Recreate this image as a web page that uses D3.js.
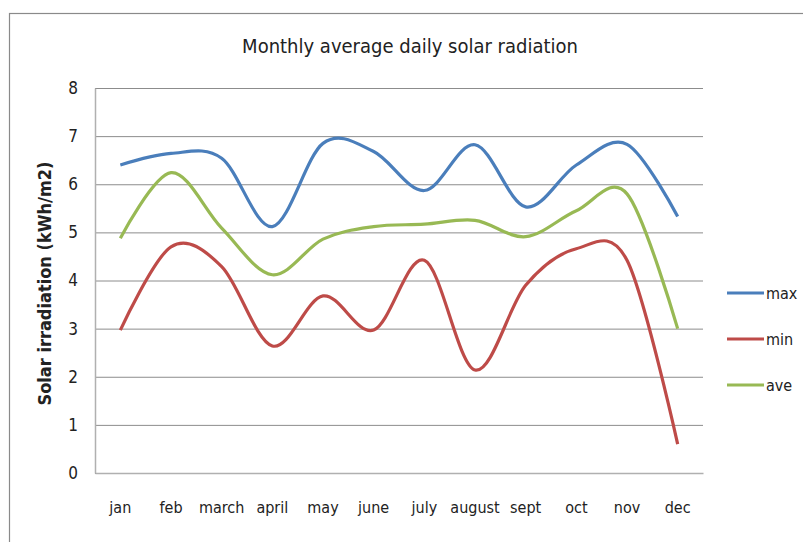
<!DOCTYPE html>
<html>
<head>
<meta charset="utf-8">
<script src="https://cdn.jsdelivr.net/npm/d3@7"></script>
<style>
  body { margin: 0; background: #fff; }
  text { font-family: "DejaVu Sans Condensed", "Liberation Sans Narrow", "Open Sans", sans-serif; font-stretch: condensed; fill: #222; }
</style>
</head>
<body>
<svg id="chart"></svg>
<script>
const months = ['jan', 'feb', 'march', 'april', 'may', 'june', 'july', 'august', 'sept', 'oct', 'nov', 'dec'];
const maxVals = [6.4, 6.64, 6.54, 5.12, 6.85, 6.68, 5.87, 6.82, 5.53, 6.4, 6.83, 5.33];
const minVals = [2.97, 4.7, 4.29, 2.64, 3.68, 2.97, 4.42, 2.14, 3.9, 4.66, 4.42, 0.6];
const aveVals = [4.88, 6.24, 5.09, 4.12, 4.86, 5.12, 5.17, 5.25, 4.91, 5.45, 5.8, 3.0];
const yTicks = [0, 1, 2, 3, 4, 5, 6, 7, 8];

const series = [
  { name: 'max', values: maxVals, color: '#4a7ebb' },
  { name: 'min', values: minVals, color: '#be4b48' },
  { name: 'ave', values: aveVals, color: '#98b954' }
];

const W = 803, H = 542;
const margin = { top: 88, right: 100, bottom: 69, left: 95 };
const width = W - margin.left - margin.right;
const height = H - margin.top - margin.bottom;

const svg = d3.select('#chart').attr('width', W).attr('height', H);

// outer frame
svg.append('rect')
  .attr('x', 9.5).attr('y', 13.5)
  .attr('width', 800).attr('height', 540)
  .attr('fill', 'none').attr('stroke', '#8a8a8a').attr('stroke-width', 1.2);

svg.append('text')
  .attr('x', 410).attr('y', 53)
  .attr('text-anchor', 'middle')
  .style('font-size', '20px')
  .text('Monthly average daily solar radiation');

const x = d3.scaleBand().domain(months).range([0, width]);
const y = d3.scaleLinear().domain([0, 8]).range([height, 0]);

const chart = svg.append('g').attr('transform', `translate(${margin.left},${margin.top})`);

// gridlines
chart.append('g')
  .call(d3.axisLeft(y).tickValues(yTicks).tickSize(-width).tickFormat(''))
  .call(g => g.select('.domain').remove())
  .call(g => g.selectAll('line').attr('stroke', '#8c8c8c').attr('stroke-width', 1));

// y axis
chart.append('g')
  .call(d3.axisLeft(y).tickValues(yTicks).tickSize(0).tickPadding(17))
  .call(g => g.select('.domain').attr('stroke', '#b0b0b0').attr('stroke-width', 1.5))
  .call(g => g.selectAll('text').style('font-size', '17px').attr('fill', '#333'));

// x axis
chart.append('g')
  .attr('transform', `translate(0,${height})`)
  .call(d3.axisBottom(x).tickSize(0).tickPadding(29))
  .call(g => g.select('.domain').attr('stroke', '#b0b0b0').attr('stroke-width', 1.5))
  .call(g => g.selectAll('text').style('font-size', '16px').attr('fill', '#333'));

svg.append('text')
  .attr('transform', `translate(51,${margin.top + height / 2 + 3}) rotate(-90)`)
  .attr('text-anchor', 'middle')
  .style('font-size', '18px')
  .style('font-weight', 'bold')
  .text('Solar irradiation (kWh/m2)');

const line = d3.line()
  .x((d, i) => x(months[i]) + x.bandwidth() / 2)
  .y(d => y(d))
  .curve(d3.curveCardinal.tension(0));

chart.selectAll('.series')
  .data(series)
  .enter()
  .append('path')
  .attr('class', 'series')
  .attr('d', d => line(d.values))
  .attr('fill', 'none')
  .attr('stroke', d => d.color)
  .attr('stroke-width', 3.2);

// legend
const legend = svg.append('g').attr('transform', 'translate(727,293)');
const item = legend.selectAll('g')
  .data(series)
  .enter()
  .append('g')
  .attr('transform', (d, i) => `translate(0,${i * 46})`);
item.append('line')
  .attr('x1', 0).attr('x2', 37)
  .attr('stroke', d => d.color)
  .attr('stroke-width', 3.2);
item.append('text')
  .attr('x', 39).attr('y', 6)
  .style('font-size', '16px')
  .attr('fill', '#333')
  .text(d => d.name);
</script>
</body>
</html>
